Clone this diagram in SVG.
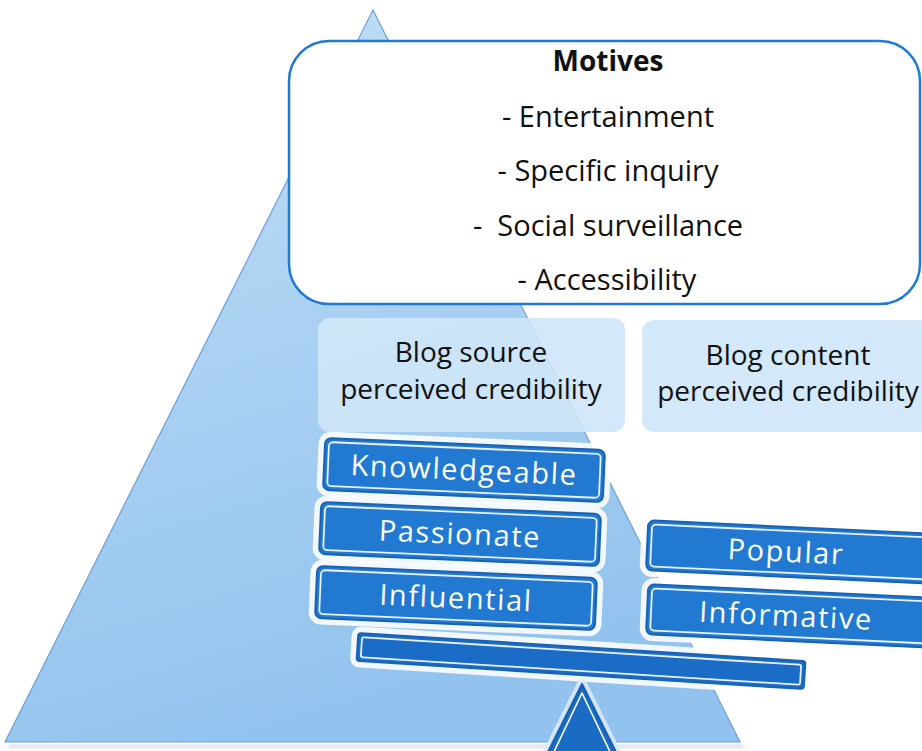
<svg xmlns="http://www.w3.org/2000/svg" width="922" height="751" viewBox="0 0 922 751">
  <defs>
    <linearGradient id="pyramidFill" x1="0" y1="0" x2="0.3" y2="1">
      <stop offset="0" stop-color="#c3dff6"/>
      <stop offset="1" stop-color="#92c3ee"/>
    </linearGradient>
    <filter id="soft" x="-5%" y="-5%" width="110%" height="110%">
      <feGaussianBlur stdDeviation="2"/>
    </filter>
    <style>
      .txt { font-family: "Open Sans", "Noto Sans", "DejaVu Sans", sans-serif; fill: #111; text-anchor: middle; }
      .motive { font-size: 29px; }
      .title { font-size: 28px; font-weight: bold; }
      .cred { font-size: 28px; }
      .panel { fill: #cfe6f7; opacity: 0.92; }
      .halo { fill: #ffffff; stroke: #ffffff; stroke-width: 13; stroke-linejoin: round; opacity: 0.88; }
      .bar { fill: #2179d2; stroke: #1763b5; stroke-width: 2; }
      .inner { fill: none; stroke: #ffffff; stroke-width: 1.8; opacity: 0.9; }
      .label { font-family: "Open Sans", "Noto Sans", "DejaVu Sans", sans-serif; font-size: 29px; letter-spacing: 1.6px; fill: #ffffff; text-anchor: middle; }
    </style>
  </defs>

  <rect width="922" height="751" fill="#ffffff"/>

  <!-- large pyramid backdrop -->
  <g id="pyramid">
    <polygon points="10,745 745,745 742,748 8,748" fill="#9aa7b5" opacity="0.5" filter="url(#soft)"/>
    <polygon points="373,10 740,742 5,742" fill="url(#pyramidFill)" stroke="#6f9fd6" stroke-width="1.2"/>
  </g>

  <!-- motives box -->
  <g id="motives">
    <rect x="289" y="41" width="631" height="263" rx="40" ry="40" fill="#ffffff" stroke="#1f7ad6" stroke-width="2.5"/>
    <text class="txt title" x="608" y="71">Motives</text>
    <text class="txt motive" x="608" y="127">- Entertainment</text>
    <text class="txt motive" x="608" y="181">- Specific inquiry</text>
    <text class="txt motive" x="608" y="236" xml:space="preserve">-  Social surveillance</text>
    <text class="txt motive" x="607" y="290">- Accessibility</text>
  </g>

  <!-- credibility panels -->
  <g id="source-credibility">
    <rect class="panel" x="318" y="318" width="307" height="114" rx="12"/>
    <text class="txt cred" x="471" y="362">Blog source</text>
    <text class="txt cred" x="471" y="399">perceived credibility</text>
  </g>
  <g id="content-credibility">
    <rect class="panel" x="642" y="320" width="290" height="112" rx="12"/>
    <text class="txt cred" x="788" y="365">Blog content</text>
    <text class="txt cred" x="788" y="401">perceived credibility</text>
  </g>

  <!-- source attributes -->
  <g id="knowledgeable" transform="translate(464 470) rotate(2.5)">
    <rect class="halo" x="-140" y="-26" width="280" height="52" rx="6"/>
    <rect class="bar" x="-140" y="-26" width="280" height="52" rx="6"/>
    <rect class="inner" x="-136" y="-22" width="272" height="44" rx="4"/>
    <text class="label" x="0" y="10">Knowledgeable</text>
  </g>
  <g id="passionate" transform="translate(460 534) rotate(2.5)">
    <rect class="halo" x="-140" y="-26" width="280" height="52" rx="6"/>
    <rect class="bar" x="-140" y="-26" width="280" height="52" rx="6"/>
    <rect class="inner" x="-136" y="-22" width="272" height="44" rx="4"/>
    <text class="label" x="0" y="10">Passionate</text>
  </g>
  <g id="influential" transform="translate(456 598) rotate(2.5)">
    <rect class="halo" x="-140" y="-26" width="280" height="52" rx="6"/>
    <rect class="bar" x="-140" y="-26" width="280" height="52" rx="6"/>
    <rect class="inner" x="-136" y="-22" width="272" height="44" rx="4"/>
    <text class="label" x="0" y="10">Influential</text>
  </g>

  <!-- content attributes -->
  <g id="popular" transform="translate(790 552) rotate(2.7)">
    <rect class="halo" x="-143" y="-25" width="286" height="50" rx="6"/>
    <rect class="bar" x="-143" y="-25" width="286" height="50" rx="6"/>
    <rect class="inner" x="-139" y="-21" width="278" height="42" rx="4"/>
    <text class="label" x="-4" y="10">Popular</text>
  </g>
  <g id="informative" transform="translate(790 616) rotate(2.7)">
    <rect class="halo" x="-143" y="-25" width="286" height="50" rx="6"/>
    <rect class="bar" x="-143" y="-25" width="286" height="50" rx="6"/>
    <rect class="inner" x="-139" y="-21" width="278" height="42" rx="4"/>
    <text class="label" x="-4" y="10">Informative</text>
  </g>

  <!-- balance beam and fulcrum -->
  <g id="beam" transform="translate(581 661) rotate(3.6)">
    <rect class="halo" x="-224" y="-14" width="448" height="28" rx="3" opacity="0.7"/>
    <rect class="bar" x="-224" y="-14" width="448" height="28" rx="3" style="fill:#1b6cc6"/>
    <rect class="inner" x="-220" y="-10" width="440" height="20" rx="2"/>
  </g>
  <g id="fulcrum">
    <polygon points="582,684 620,760 544,760" fill="#dbeaf8" stroke="#dbeaf8" stroke-width="10" stroke-linejoin="round" opacity="0.85"/>
    <polygon points="582,684 620,760 544,760" fill="#1a6bc3" stroke="#1560b3" stroke-width="2" stroke-linejoin="round"/>
    <polygon points="582,693 612,756 552,756" fill="none" stroke="#ffffff" stroke-width="1.6" stroke-linejoin="round"/>
  </g>
</svg>
